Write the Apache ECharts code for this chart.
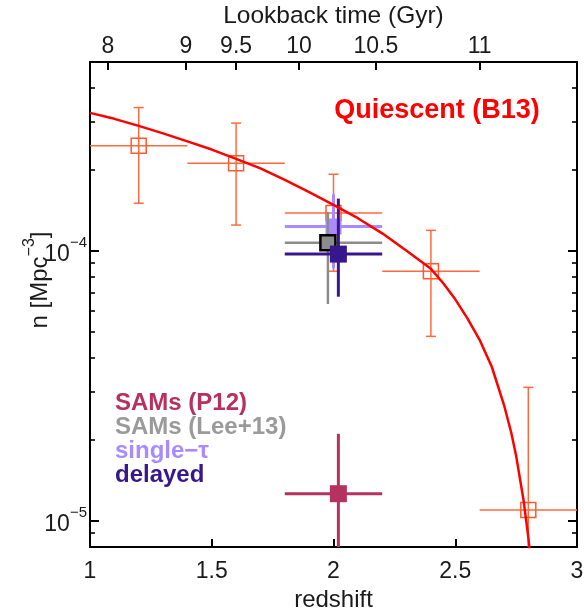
<!DOCTYPE html>
<html><head><meta charset="utf-8">
<script src="https://cdn.jsdelivr.net/npm/echarts@6/dist/echarts.min.js"></script>
<style>html,body{margin:0;padding:0;background:#fff}#c{width:584px;height:612px}</style>
</head><body><div id="c"></div>
<script>
const FONT = '"Liberation Sans", Arial, Helvetica, sans-serif';

// ---- axes / ticks ----
const redshiftTicks = [1, 1.5, 2, 2.5, 3];
const lookbackLabels = ['8', '9', '9.5', '10', '10.5', '11'];
const lookbackZ = [1.073, 1.394, 1.600, 1.858, 2.174, 2.600];
const yMajorTicks = [1e-5, 1e-4];
const yMajorExp = ['−5', '−4'];
const yMinorTicks = [8e-6, 9e-6, 2e-5, 3e-5, 4e-5, 5e-5, 6e-5, 7e-5, 8e-5, 9e-5, 2e-4, 3e-4, 4e-4];

// ---- Quiescent (B13) curve ----
const curveZ = [1.0, 1.1, 1.2, 1.3, 1.4, 1.5, 1.6, 1.7, 1.8, 1.9, 2.0, 2.1, 2.2, 2.3, 2.4, 2.45, 2.5, 2.55, 2.6, 2.65, 2.7, 2.73, 2.75, 2.78, 2.8, 2.82];
const curveN = [3.24e-4, 3.08e-4, 2.90e-4, 2.72e-4, 2.54e-4, 2.37e-4, 2.19e-4, 2.02e-4, 1.83e-4, 1.65e-4, 1.48e-4, 1.32e-4, 1.16e-4, 1.0e-4, 8.57e-5, 7.6e-5, 6.61e-5, 5.62e-5, 4.68e-5, 3.72e-5, 2.69e-5, 2.12e-5, 1.74e-5, 1.20e-5, 8.7e-6, 5.75e-6];

// ---- Quiescent (B13) data points ----
const qZ = [1.2, 1.6, 2.0, 2.4, 2.8];
const qN = [2.45e-4, 2.11e-4, 1.38e-4, 8.4e-5, 1.096e-5];
const qZlo = [1.0, 1.4, 1.8, 2.2, 2.6];
const qZhi = [1.4, 1.8, 2.2, 2.6, 3.0];
const qNlo = [1.50e-4, 1.245e-4, 8.4e-5, 4.82e-5, 5e-6];
const qNhi = [3.39e-4, 2.97e-4, 1.92e-4, 1.19e-4, 3.12e-5];

// ---- single-tau ----
const stZ = [2.0], stN = [1.23e-4], stZlo = [1.8], stZhi = [2.2], stNlo = [8.6e-5], stNhi = [1.62e-4];
// ---- SAMs (Lee+13) ----
const leeZ = [1.977], leeN = [1.07e-4], leeZlo = [1.8], leeZhi = [2.2], leeNlo = [6.35e-5], leeNhi = [1.39e-4];
// ---- delayed ----
const dZ = [2.02], dN = [9.72e-5], dZlo = [1.8], dZhi = [2.2], dNlo = [6.76e-5], dNhi = [1.56e-4];
// ---- SAMs (P12) ----
const pZ = [2.02], pN = [1.26e-5], pZlo = [1.8], pZhi = [2.2], pNlo = [7.0e-6], pNhi = [2.1e-5];

const legendLabels = ['SAMs (P12)', 'SAMs (Lee+13)', 'single−τ', 'delayed'];
const legendColors = ['#b5325e', '#9a9a9a', '#a98bff', '#38168c'];

function errorSeries(name, zs, ns, zlo, zhi, nlo, nhi, s) {
  return {
    type: 'custom', name: name, xAxisIndex: 0, yAxisIndex: 0, z: s.z, silent: true,
    data: zs.map((z, i) => [z, ns[i], zlo[i], zhi[i], nlo[i], nhi[i]]),
    encode: { x: 0, y: 1 },
    renderItem: function (params, api) {
      const cs = params.coordSys;
      const L = cs.x, R = cs.x + cs.width, T = cs.y, B = cs.y + cs.height;
      const cl = (v, a, b) => Math.max(a, Math.min(b, v));
      const p = api.coord([api.value(0), api.value(1)]);
      let x1 = api.coord([api.value(2), api.value(1)])[0];
      let x2 = api.coord([api.value(3), api.value(1)])[0];
      let yTop = api.coord([api.value(0), api.value(5)])[1];
      let yBot = api.coord([api.value(0), api.value(4)])[1];
      const capTop = yTop >= T, capBot = yBot <= B;
      x1 = cl(x1, L, R); x2 = cl(x2, L, R); yTop = cl(yTop, T, B); yBot = cl(yBot, T, B);
      const ls = { stroke: s.bar, lineWidth: s.lw };
      const ch = [
        { type: 'line', shape: { x1: x1, y1: p[1], x2: x2, y2: p[1] }, style: ls },
        { type: 'line', shape: { x1: p[0], y1: yTop, x2: p[0], y2: yBot }, style: ls }
      ];
      if (s.cap) {
        if (capTop) ch.push({ type: 'line', shape: { x1: p[0] - s.cap, y1: yTop, x2: p[0] + s.cap, y2: yTop }, style: ls });
        if (capBot) ch.push({ type: 'line', shape: { x1: p[0] - s.cap, y1: yBot, x2: p[0] + s.cap, y2: yBot }, style: ls });
      }
      const h = s.size / 2;
      ch.push({ type: 'rect', shape: { x: p[0] - h, y: p[1] - h, width: s.size, height: s.size },
        style: { fill: s.fill, stroke: s.stroke, lineWidth: s.slw } });
      return { type: 'group', children: ch };
    }
  };
}

const tickFmtY = v => {
  let best = 0;
  yMajorTicks.forEach((t, i) => { if (Math.abs(Math.log10(t) - Math.log10(v)) < Math.abs(Math.log10(yMajorTicks[best]) - Math.log10(v))) best = i; });
  return '{b|10}{s|' + yMajorExp[best] + '}';
};
const tickFmtTop = v => {
  let best = 0;
  lookbackZ.forEach((t, i) => { if (Math.abs(t - v) < Math.abs(lookbackZ[best] - v)) best = i; });
  return lookbackLabels[best];
};

const yBase = {
  type: 'log', logBase: 10, min: 8e-6, max: 5e-4, gridIndex: 0,
  splitLine: { show: false }, minorTick: { show: false }, minorSplitLine: { show: false }
};
const yMajor = (pos) => Object.assign({}, yBase, {
  position: pos,
  axisLine: { show: true, lineStyle: { color: '#000', width: 2 } },
  axisTick: { show: true, inside: true, length: 9, customValues: yMajorTicks, lineStyle: { color: '#000', width: 2 } },
  axisLabel: pos === 'left' ? {
    show: true, customValues: yMajorTicks, margin: 3, formatter: tickFmtY,
    rich: {
      b: { fontSize: 23, fontFamily: FONT, color: '#1a1a1a', lineHeight: 30, verticalAlign: 'bottom' },
      s: { fontSize: 15, fontFamily: FONT, color: '#1a1a1a', lineHeight: 14, verticalAlign: 'top' }
    }
  } : { show: false }
});
const yMinor = (pos) => Object.assign({}, yBase, {
  position: pos,
  axisLine: { show: false },
  axisTick: { show: true, inside: true, length: 5, customValues: yMinorTicks, lineStyle: { color: '#000', width: 1.6 } },
  axisLabel: { show: false }
});

const option = {
  animation: false,
  backgroundColor: '#fff',
  grid: { left: 90, right: 7, top: 62, bottom: 65, containLabel: false, outerBoundsMode: 'none' },
  xAxis: [
    {
      type: 'value', position: 'bottom', min: 1, max: 3, interval: 0.5,
      axisLine: { show: true, onZero: false, lineStyle: { color: '#000', width: 2 } },
      axisTick: { show: true, inside: true, length: 8, customValues: redshiftTicks, lineStyle: { color: '#000', width: 2 } },
      axisLabel: { show: true, customValues: redshiftTicks, fontSize: 23, fontFamily: FONT, color: '#1a1a1a', margin: 13 },
      splitLine: { show: false },
      name: 'redshift', nameLocation: 'middle', nameGap: 38,
      nameTextStyle: { fontSize: 24, fontFamily: FONT, color: '#1a1a1a' }
    },
    {
      type: 'value', position: 'top', min: 1, max: 3,
      axisLine: { show: true, onZero: false, lineStyle: { color: '#000', width: 2 } },
      axisTick: { show: true, inside: true, length: 8, customValues: lookbackZ, lineStyle: { color: '#000', width: 2 } },
      axisLabel: { show: true, customValues: lookbackZ, formatter: tickFmtTop, fontSize: 23, fontFamily: FONT, color: '#1a1a1a', margin: 4 },
      splitLine: { show: false },
      name: 'Lookback time (Gyr)', nameLocation: 'middle', nameGap: 33,
      nameTextStyle: { fontSize: 24.5, fontFamily: FONT, color: '#1a1a1a' }
    }
  ],
  yAxis: [yMajor('left'), yMinor('left'), yMajor('right'), yMinor('right')],
  series: [
    errorSeries('Quiescent (B13) data', qZ, qN, qZlo, qZhi, qNlo, qNhi,
      { z: 2, bar: '#ff6a3c', lw: 1.5, cap: 5, size: 15, fill: 'none', stroke: '#ff5a2a', slw: 1.5 }),
    errorSeries('single-tau', stZ, stN, stZlo, stZhi, stNlo, stNhi,
      { z: 3, bar: '#a98bff', lw: 3, cap: 0, size: 16, fill: '#a98bff', stroke: '#a98bff', slw: 0 }),
    errorSeries('SAMs (Lee+13)', leeZ, leeN, leeZlo, leeZhi, leeNlo, leeNhi,
      { z: 4, bar: '#8c8c8c', lw: 2.5, cap: 0, size: 15, fill: '#8c8c8c', stroke: '#000', slw: 2.5 }),
    errorSeries('delayed', dZ, dN, dZlo, dZhi, dNlo, dNhi,
      { z: 5, bar: '#38168c', lw: 3, cap: 0, size: 17, fill: '#38168c', stroke: '#38168c', slw: 0 }),
    errorSeries('SAMs (P12)', pZ, pN, pZlo, pZhi, pNlo, pNhi,
      { z: 5, bar: '#b5325e', lw: 3, cap: 0, size: 17, fill: '#b5325e', stroke: '#b5325e', slw: 0 }),
    {
      type: 'line', name: 'Quiescent (B13)', xAxisIndex: 0, yAxisIndex: 0, z: 10,
      data: curveZ.map((z, i) => [z, curveN[i]]),
      smooth: false, showSymbol: false, symbol: 'none', clip: true,
      lineStyle: { color: '#ff0000', width: 2.5, join: 'round' }, silent: true
    }
  ],
  graphic: [
    { type: 'text', x: 437, y: 111, z: 20,
      style: { text: 'Quiescent (B13)', fill: '#ff0000', font: 'bold 27px ' + FONT, align: 'center', verticalAlign: 'middle' } },
    { type: 'text', x: 37, y: 280, rotation: Math.PI / 2, z: 20,
      style: {
        text: '{a|n [Mpc}{s|−3}{a|]}', align: 'center', verticalAlign: 'middle',
        rich: {
          a: { fontSize: 24, fontFamily: FONT, fill: '#1a1a1a', lineHeight: 30, verticalAlign: 'bottom' },
          s: { fontSize: 16, fontFamily: FONT, fill: '#1a1a1a', lineHeight: 14, verticalAlign: 'top' }
        }
      } }
  ].concat(legendLabels.map((t, i) => ({
    type: 'text', x: 115, y: 403 + i * 24, z: 20,
    style: { text: t, fill: legendColors[i], font: 'bold 24px ' + FONT, align: 'left', verticalAlign: 'middle' }
  })))
};

const chart = echarts.init(document.getElementById('c'), null, { renderer: 'canvas' });
chart.setOption(option);
</script></body></html>
